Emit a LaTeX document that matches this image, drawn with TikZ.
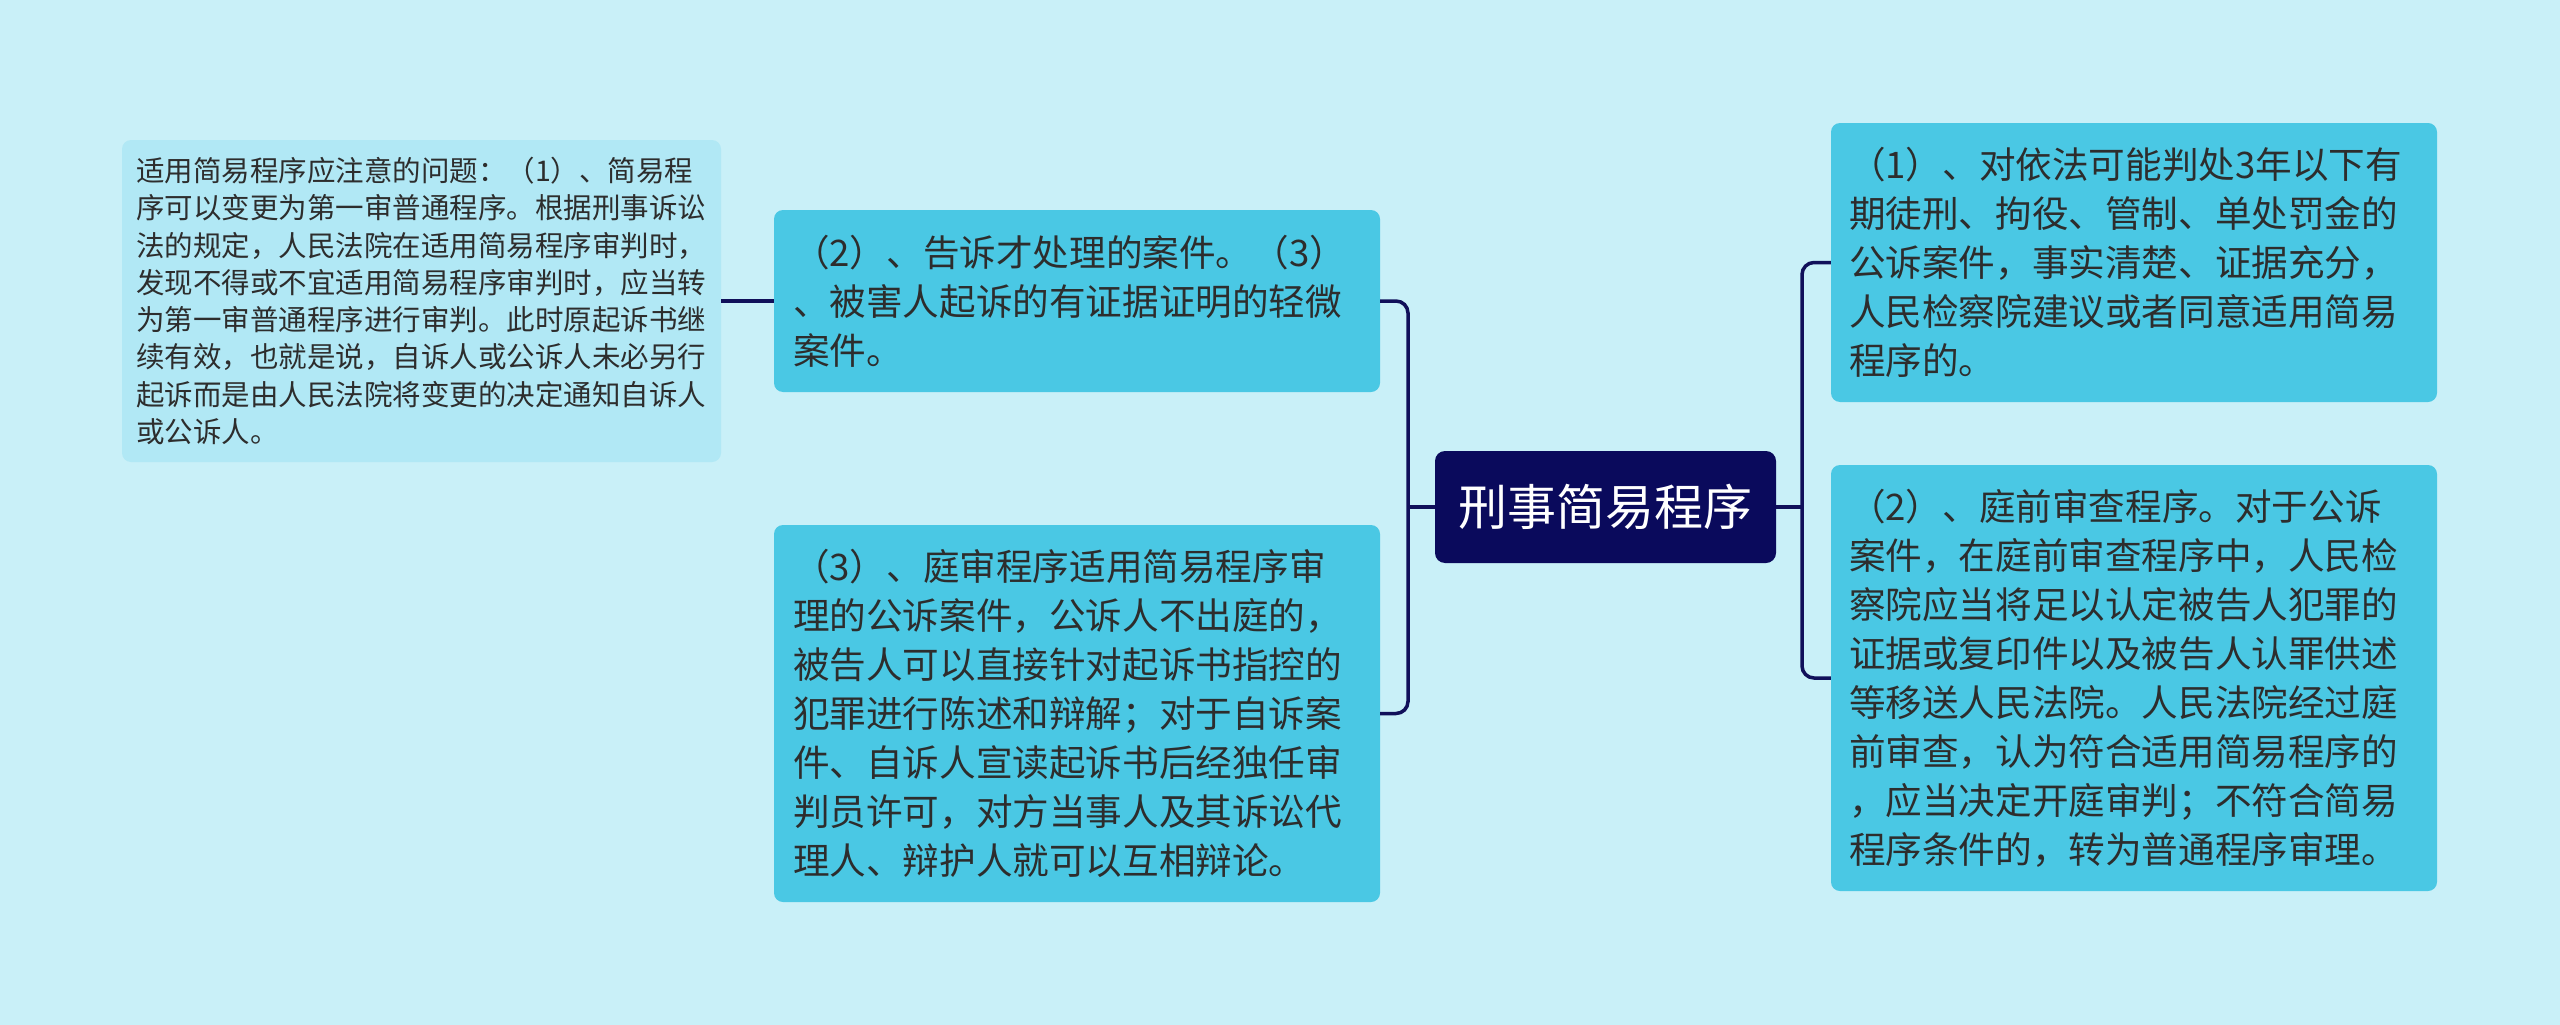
\documentclass[tikz,border=0pt]{standalone}
\usepackage{fontspec}
\setmainfont{Noto Sans CJK SC}
\definecolor{bgc}{RGB}{201,240,248}
\definecolor{boxc}{RGB}{74,200,228}
\definecolor{leafc}{RGB}{177,232,245}
\definecolor{rootc}{RGB}{10,10,92}
\definecolor{linec}{RGB}{16,16,90}
\definecolor{txtc}{RGB}{45,45,45}
\tikzset{
  topicbox/.style={rectangle, rounded corners=9pt, fill=boxc, text=txtc, align=left, inner ysep=0pt, inner xsep=19pt, anchor=center,
    font={\fontsize{36.6pt}{49pt}\selectfont}},
  leafbox/.style={rectangle, rounded corners=9pt, fill=leafc, text=txtc, align=left, inner ysep=0pt, inner xsep=14pt, anchor=center,
    font={\fontsize{28.5pt}{37.3pt}\selectfont}},
  rootbox/.style={rectangle, rounded corners=10pt, fill=rootc, text=white, align=center, inner sep=0pt, anchor=center,
    font={\fontsize{49pt}{58pt}\selectfont}},
  conn/.style={draw=linec, line width=3.5pt, rounded corners=12pt}
}
\begin{document}
\begin{tikzpicture}[x=1pt,y=-1pt]
\useasboundingbox[fill=bgc] (0,0) rectangle (2560,1025);
\node[rootbox, minimum width=341pt, minimum height=112pt] (root) at (1605.5,507) {刑事简易程序};
\node[topicbox, text width=568pt, minimum height=182pt] (b2) at (1077,301) {（2）、告诉才处理的案件。（3）\\、被害人起诉的有证据证明的轻微\\案件。};
\node[topicbox, text width=568pt, minimum height=377pt] (b3) at (1077,713.5) {（3）、庭审程序适用简易程序审\\理的公诉案件，公诉人不出庭的，\\被告人可以直接针对起诉书指控的\\犯罪进行陈述和辩解；对于自诉案\\件、自诉人宣读起诉书后经独任审\\判员许可，对方当事人及其诉讼代\\理人、辩护人就可以互相辩论。};
\node[leafbox, text width=571pt, minimum height=322pt] (leaf) at (421.5,301) {适用简易程序应注意的问题：（1）、简易程\\序可以变更为第一审普通程序。根据刑事诉讼\\法的规定，人民法院在适用简易程序审判时，\\发现不得或不宜适用简易程序审判时，应当转\\为第一审普通程序进行审判。此时原起诉书继\\续有效，也就是说，自诉人或公诉人未必另行\\起诉而是由人民法院将变更的决定通知自诉人\\或公诉人。};
\node[topicbox, inner xsep=18pt, text width=570pt, minimum height=279pt] (r1) at (2134,262.5) {（1）、对依法可能判处3年以下有\\期徒刑、拘役、管制、单处罚金的\\公诉案件，事实清楚、证据充分，\\人民检察院建议或者同意适用简易\\程序的。};
\node[topicbox, inner xsep=18pt, text width=570pt, minimum height=426pt] (r2) at (2134,678) {（2）、庭前审查程序。对于公诉\\案件，在庭前审查程序中，人民检\\察院应当将足以认定被告人犯罪的\\证据或复印件以及被告人认罪供述\\等移送人民法院。人民法院经过庭\\前审查，认为符合适用简易程序的\\，应当决定开庭审判；不符合简易\\程序条件的，转为普通程序审理。};
\coordinate (lj) at (1408,507);
\coordinate (rj) at (1802,507);
\draw[conn] (b2.east) -| (lj) |- (b3.east);
\draw[conn] (root.west) -- (lj);
\draw[conn] (r1.west) -| (rj) |- (r2.west);
\draw[conn] (root.east) -- (rj);
\draw[conn] (leaf.east) -- (b2.west);
\end{tikzpicture}
\end{document}
